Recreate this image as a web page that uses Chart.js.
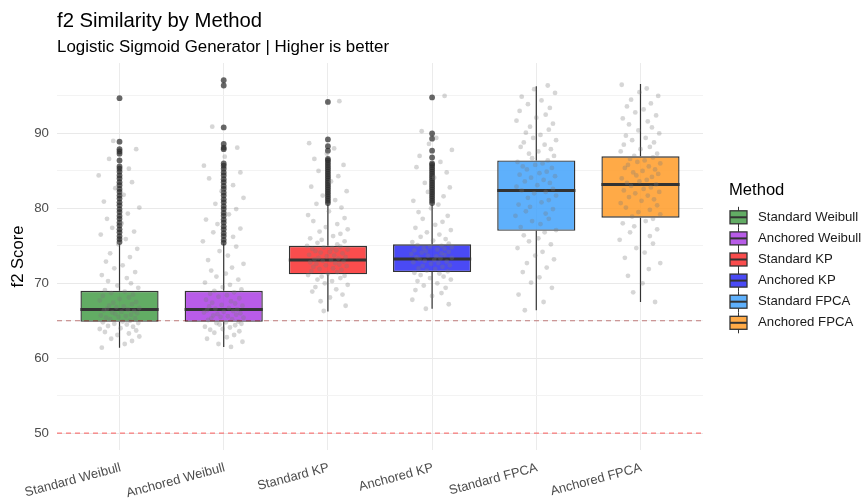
<!DOCTYPE html>
<html>
<head>
<meta charset="utf-8">
<script src="https://cdn.jsdelivr.net/npm/chart.js@4.4.1/dist/chart.umd.min.js"></script>
<style>
  html, body { margin: 0; padding: 0; background: #ffffff; }
  #wrap { width: 863px; height: 498px; }
</style>
</head>
<body>
<div id="wrap"><canvas id="chart" width="863" height="498"></canvas></div>
<script>
// ---- data ----
const CATEGORIES = ['Standard Weibull', 'Anchored Weibull', 'Standard KP', 'Anchored KP', 'Standard FPCA', 'Anchored FPCA'];

const Y_TICKS = [50, 60, 70, 80, 90];

// five-number summaries per method
const WHISK_LO = [61.4, 61.5, 66.25, 66.6, 66.4, 67.5];
const Q1       = [64.85, 64.85, 71.2, 71.5, 77.0, 78.75];
const MEDIAN   = [66.5, 66.5, 73.1, 73.25, 82.4, 83.2];
const Q3       = [69.0, 69.0, 75.0, 75.2, 86.4, 86.95];
const WHISK_HI = [75.3, 75.3, 80.5, 80.5, 96.3, 96.6];

// outlying scores (beyond the whiskers)
const OUT_STD_WEIBULL = [75.5, 75.9, 76.3, 76.8, 77.2, 77.7, 78.1, 78.6, 79.0, 79.5, 79.9, 80.4, 80.8, 81.3, 81.7, 82.2, 82.6, 83.1, 83.5, 84.0, 84.4, 84.9, 85.3, 85.6, 86.4, 87.3, 87.6, 87.9, 88.9, 94.7];
const OUT_ANC_WEIBULL = [75.4, 75.8, 76.3, 76.7, 77.2, 77.6, 78.1, 78.5, 79.0, 79.4, 79.9, 80.3, 80.8, 81.2, 81.7, 82.1, 82.6, 83.0, 83.5, 83.9, 84.4, 84.8, 85.3, 85.7, 86.0, 87.9, 88.1, 88.6, 90.8, 96.4, 97.1];
const OUT_STD_KP = [80.7, 81.0, 81.3, 81.6, 81.9, 82.2, 82.5, 82.8, 83.1, 83.4, 83.7, 84.0, 84.3, 84.6, 84.9, 85.2, 85.5, 85.8, 86.1, 86.4, 86.6, 87.7, 88.3, 89.2, 94.2];
const OUT_ANC_KP = [80.7, 81.0, 81.3, 81.6, 81.9, 82.2, 82.5, 82.8, 83.1, 83.4, 83.7, 84.0, 84.3, 84.6, 84.9, 85.2, 85.5, 85.8, 86.0, 86.8, 87.7, 89.3, 90.0, 94.8];
const OUT_STD_FPCA = [];
const OUT_ANC_FPCA = [];

// individual scores shown as a jittered cloud (sample)
const PTS_STD_WEIBULL = [61.4, 61.9, 62.3, 62.6, 62.9, 63.1, 63.3, 63.5, 63.7, 63.9, 64.0, 64.2, 64.3, 64.5, 64.6, 64.7, 64.8, 64.9, 65.0, 65.2,
  65.3, 65.4, 65.5, 65.6, 65.7, 65.8, 65.9, 66.0, 66.1, 66.2, 66.3, 66.4, 66.5, 66.6, 66.7, 66.8, 66.9, 67.0, 67.2, 67.4,
  67.5, 67.7, 67.9, 68.1, 68.3, 68.5, 68.7, 68.9, 69.1, 69.4, 69.7, 70.0, 70.3, 70.7, 71.1, 71.5, 72.0, 72.4, 72.9, 73.5,
  74.0, 74.6, 75.2, 75.9, 76.5, 76.9, 77.4, 78.0, 78.6, 79.3, 80.1, 80.9, 81.8, 82.7, 83.5, 84.4, 85.3, 86.6, 87.9, 89.0];
const PTS_ANC_WEIBULL = [61.5, 61.9, 62.2, 62.6, 62.8, 63.1, 63.4, 63.6, 63.8, 63.9, 64.1, 64.2, 64.4, 64.5, 64.6, 64.7, 64.8, 64.9, 65.1, 65.2,
  65.3, 65.4, 65.5, 65.6, 65.7, 65.8, 65.9, 66.0, 66.1, 66.2, 66.3, 66.4, 66.5, 66.6, 66.7, 66.9, 67.0, 67.1, 67.3, 67.4,
  67.6, 67.8, 68.0, 68.2, 68.4, 68.6, 68.8, 69.0, 69.2, 69.5, 69.8, 70.1, 70.5, 70.9, 71.3, 71.7, 72.1, 72.6, 73.1, 73.7,
  74.3, 74.9, 75.6, 76.2, 76.8, 77.3, 77.9, 78.5, 79.2, 79.9, 80.6, 81.4, 82.3, 83.1, 84.0, 84.8, 85.7, 86.9, 88.1, 90.9];
const PTS_STD_KP = [66.3, 67.0, 67.6, 68.1, 68.5, 68.9, 69.2, 69.5, 69.8, 70.0, 70.3, 70.5, 70.7, 70.9, 71.0, 71.1, 71.3, 71.5, 71.6, 71.8,
  71.9, 72.0, 72.2, 72.3, 72.4, 72.5, 72.6, 72.7, 72.8, 72.9, 73.0, 73.1, 73.2, 73.3, 73.4, 73.5, 73.6, 73.7, 73.8, 74.0,
  74.1, 74.2, 74.3, 74.4, 74.5, 74.6, 74.7, 74.8, 74.9, 75.0, 75.2, 75.4, 75.6, 75.8, 76.0, 76.3, 76.6, 76.9, 77.2, 77.5,
  77.9, 78.3, 78.7, 79.1, 79.6, 80.1, 80.6, 81.1, 81.7, 82.3, 82.9, 83.6, 84.3, 85.0, 85.8, 86.6, 87.3, 88.0, 88.7, 94.3];
const PTS_ANC_KP = [66.6, 67.2, 67.8, 68.3, 68.7, 69.1, 69.4, 69.7, 70.0, 70.3, 70.5, 70.7, 70.9, 71.1, 71.3, 71.4, 71.6, 71.7, 71.9, 72.0,
  72.2, 72.3, 72.4, 72.6, 72.7, 72.8, 72.9, 73.0, 73.1, 73.2, 73.3, 73.4, 73.5, 73.6, 73.7, 73.8, 73.9, 74.0, 74.1, 74.2,
  74.3, 74.4, 74.5, 74.6, 74.7, 74.8, 74.9, 75.0, 75.1, 75.3, 75.5, 75.7, 75.9, 76.2, 76.5, 76.8, 77.1, 77.4, 77.8, 78.2,
  78.6, 79.0, 79.5, 80.0, 80.5, 81.0, 81.6, 82.2, 82.8, 83.4, 84.1, 84.8, 85.5, 86.2, 87.0, 87.8, 88.6, 89.4, 90.3, 95.0];
const PTS_STD_FPCA = [66.4, 67.5, 68.5, 69.4, 70.1, 70.8, 71.5, 72.1, 72.7, 73.2, 73.7, 74.2, 74.7, 75.2, 75.6, 76.0, 76.4, 76.8, 77.1, 77.5,
  77.9, 78.3, 78.6, 79.0, 79.3, 79.6, 79.9, 80.2, 80.5, 80.8, 81.1, 81.4, 81.7, 82.0, 82.2, 82.4, 82.6, 82.9, 83.1, 83.4,
  83.6, 83.8, 84.1, 84.3, 84.5, 84.7, 84.9, 85.2, 85.4, 85.6, 85.8, 86.0, 86.2, 86.4, 86.7, 87.0, 87.3, 87.6, 87.9, 88.2,
  88.5, 88.8, 89.1, 89.4, 89.8, 90.1, 90.5, 90.9, 91.3, 91.7, 92.1, 92.5, 93.0, 93.4, 93.9, 94.4, 94.9, 95.4, 95.9, 96.4];
const PTS_ANC_FPCA = [67.5, 68.8, 70.0, 71.0, 71.9, 72.7, 73.4, 74.1, 74.7, 75.3, 75.8, 76.3, 76.8, 77.2, 77.6, 78.0, 78.3, 78.6, 78.9, 79.2,
  79.5, 79.8, 80.1, 80.4, 80.7, 81.0, 81.2, 81.5, 81.7, 82.0, 82.2, 82.4, 82.6, 82.8, 83.0, 83.2, 83.4, 83.6, 83.8, 84.0,
  84.2, 84.4, 84.6, 84.8, 85.0, 85.2, 85.4, 85.6, 85.8, 86.0, 86.2, 86.4, 86.6, 86.8, 87.0, 87.3, 87.6, 87.9, 88.2, 88.5,
  88.8, 89.1, 89.4, 89.7, 90.0, 90.4, 90.8, 91.2, 91.6, 92.0, 92.4, 92.8, 93.2, 93.6, 94.0, 94.5, 95.0, 95.5, 96.0, 96.5];

// horizontal jitter offsets (in category units)
const JITTER_X = [-0.17, 0.05, 0.12, -0.08, 0.19, -0.02, 0.09, -0.14, 0.16, -0.19,
  0.01, 0.13, -0.11, 0.07, -0.05, 0.18, -0.16, 0.03, 0.10, -0.09,
  0.15, -0.13, -0.01, 0.06, -0.18, 0.11, -0.04, 0.17, -0.07, 0.02,
  0.14, -0.15, 0.08, -0.12, 0.19, -0.03, 0.04, -0.10, 0.12, -0.06,
  0.16, -0.19, 0.00, 0.09, -0.16, 0.13, -0.08, 0.05, -0.14, 0.18,
  -0.02, 0.11, -0.11, 0.07, -0.17, 0.15, -0.05, 0.03, -0.13, 0.10,
  -0.09, 0.17, -0.01, 0.06, -0.18, 0.14, -0.07, 0.02, -0.12, 0.08,
  0.19, -0.15, 0.04, -0.04, 0.12, -0.20, 0.09, -0.10, 0.16, -0.06];

// reference thresholds
const THRESHOLDS = [65, 50];

// ---- styling ----
const FONT = '"Liberation Sans", Arial, Helvetica, sans-serif';
const FILLS = ['rgba(70,158,73,0.85)', 'rgba(171,63,228,0.85)', 'rgba(249,46,46,0.85)',
               'rgba(42,42,243,0.85)', 'rgba(66,162,252,0.85)', 'rgba(255,155,39,0.85)'];
const THRESHOLD_COLORS = ['rgba(139,0,0,0.5)', 'rgba(255,0,0,0.5)'];

const OUTLIERS = [OUT_STD_WEIBULL, OUT_ANC_WEIBULL, OUT_STD_KP, OUT_ANC_KP, OUT_STD_FPCA, OUT_ANC_FPCA];
const POINTS = [PTS_STD_WEIBULL, PTS_ANC_WEIBULL, PTS_STD_KP, PTS_ANC_KP, PTS_STD_FPCA, PTS_ANC_FPCA];

// one floating bar (Q1..Q3) per method, positioned at the method's index
const boxSets = CATEGORIES.map((name, i) => ({
  type: 'bar',
  label: name,
  data: [{ x: i, y: [Q1[i], Q3[i]] }],
  backgroundColor: FILLS[i],
  borderColor: '#333333',
  borderWidth: 1.4,
  borderSkipped: false,
  grouped: false,
  barPercentage: 0.75,
  categoryPercentage: 1,
  order: 3,
  boxIndex: i
}));

const outlierSets = OUTLIERS.map((vals, i) => ({
  type: 'scatter',
  label: CATEGORIES[i] + ' outliers',
  data: vals.map(v => ({ x: i, y: v })),
  pointRadius: 2.9,
  pointBorderWidth: 0,
  pointBackgroundColor: 'rgba(45,45,45,0.72)',
  order: 2
}));

const jitterSets = POINTS.map((vals, i) => ({
  type: 'scatter',
  label: CATEGORIES[i] + ' scores',
  data: vals.map((v, k) => ({ x: i + JITTER_X[(k + 13 * i) % JITTER_X.length], y: v })),
  pointRadius: 2.4,
  pointBorderWidth: 0,
  pointBackgroundColor: 'rgba(120,120,120,0.3)',
  order: 1
}));

// whiskers and median bar drawn with each box
const boxExtras = {
  id: 'boxExtras',
  afterDatasetDraw(chart, args) {
    const ds = chart.data.datasets[args.index];
    if (ds.boxIndex === undefined) return;
    const i = ds.boxIndex;
    const bar = args.meta.data[0];
    const y = chart.scales.y;
    const ctx = chart.ctx;
    ctx.save();
    ctx.strokeStyle = '#333333';
    ctx.lineWidth = 1.2;
    ctx.beginPath();
    ctx.moveTo(bar.x, y.getPixelForValue(Q3[i]));
    ctx.lineTo(bar.x, y.getPixelForValue(WHISK_HI[i]));
    ctx.moveTo(bar.x, y.getPixelForValue(Q1[i]));
    ctx.lineTo(bar.x, y.getPixelForValue(WHISK_LO[i]));
    ctx.stroke();
    ctx.lineWidth = 3;
    const my = y.getPixelForValue(MEDIAN[i]);
    ctx.beginPath();
    ctx.moveTo(bar.x - bar.width / 2, my);
    ctx.lineTo(bar.x + bar.width / 2, my);
    ctx.stroke();
    ctx.restore();
  }
};

// dashed reference thresholds
const thresholdLines = {
  id: 'thresholdLines',
  afterDatasetsDraw(chart) {
    const { ctx, chartArea } = chart;
    const y = chart.scales.y;
    ctx.save();
    ctx.lineWidth = 1.2;
    ctx.setLineDash([5, 4]);
    THRESHOLDS.forEach((t, k) => {
      const py = y.getPixelForValue(t);
      ctx.strokeStyle = THRESHOLD_COLORS[k];
      ctx.beginPath();
      ctx.moveTo(chartArea.left, py);
      ctx.lineTo(chartArea.right, py);
      ctx.stroke();
    });
    ctx.restore();
  }
};

// title, subtitle and the Method key
const annotations = {
  id: 'annotations',
  afterDraw(chart) {
    const { ctx, chartArea } = chart;
    ctx.save();
    ctx.textAlign = 'left';
    ctx.textBaseline = 'alphabetic';
    ctx.fillStyle = '#000000';
    ctx.font = '20.3px ' + FONT;
    ctx.fillText('f2 Similarity by Method', chartArea.left, 27);
    ctx.font = '16.9px ' + FONT;
    ctx.fillText('Logistic Sigmoid Generator | Higher is better', chartArea.left, 52);

    const x0 = chartArea.right + 27;
    ctx.textBaseline = 'middle';
    ctx.font = '16.6px ' + FONT;
    ctx.fillText('Method', x0 - 1, 190.5);
    ctx.font = '13.2px ' + FONT;
    CATEGORIES.forEach((name, i) => {
      const cy = 217.3 + i * 21.1;
      ctx.strokeStyle = '#333333';
      ctx.lineWidth = 1;
      ctx.beginPath();
      ctx.moveTo(x0 + 8.5, cy - 10.5); ctx.lineTo(x0 + 8.5, cy - 6.5);
      ctx.moveTo(x0 + 8.5, cy + 6.5); ctx.lineTo(x0 + 8.5, cy + 10.5);
      ctx.stroke();
      ctx.fillStyle = FILLS[i];
      ctx.fillRect(x0, cy - 6.5, 17, 13);
      ctx.lineWidth = 1.3;
      ctx.strokeRect(x0, cy - 6.5, 17, 13);
      ctx.lineWidth = 2;
      ctx.beginPath();
      ctx.moveTo(x0, cy); ctx.lineTo(x0 + 17, cy);
      ctx.stroke();
      ctx.fillStyle = '#1a1a1a';
      ctx.fillText(name, x0 + 28, cy);
    });
    ctx.restore();
  }
};

new Chart(document.getElementById('chart'), {
  data: { datasets: [...boxSets, ...outlierSets, ...jitterSets] },
  options: {
    responsive: false,
    animation: false,
    devicePixelRatio: 1,
    layout: { padding: { top: 63, right: 160, bottom: 0, left: 0 } },
    plugins: { legend: { display: false }, tooltip: { enabled: false }, title: { display: false } },
    scales: {
      x: {
        type: 'linear',
        offset: false,
        min: -0.6,
        max: CATEGORIES.length - 0.4,
        afterBuildTicks(scale) { scale.ticks = CATEGORIES.map((_, i) => ({ value: i })); },
        grid: { offset: false, color: '#ebebeb', lineWidth: 1, drawTicks: false },
        border: { display: false },
        ticks: { minRotation: 15, maxRotation: 15, autoSkip: false, padding: 10, labelOffset: 1,
                 color: '#4d4d4d', font: { family: FONT, size: 13 },
                 callback: v => CATEGORIES[v] },
        afterFit(scale) {
          scale.height = 48;
          scale.paddingLeft = 0;
          scale.paddingRight = 0;
        }
      },
      y: {
        type: 'linear',
        min: 47.75,
        max: 99.4,
        grid: {
          drawTicks: false,
          color: ctx => (Y_TICKS.includes(ctx.tick.value) ? '#e9e9e9' : '#f3f3f3'),
          lineWidth: 1
        },
        border: { display: false },
        ticks: {
          stepSize: 5,
          includeBounds: false,
          padding: 8,
          color: '#4d4d4d',
          font: { family: FONT, size: 13.3 },
          callback: v => (Y_TICKS.includes(v) ? String(v) : '')
        },
        title: { display: true, text: 'f2 Score', color: '#000000', font: { family: FONT, size: 16.6 },
                 padding: { top: 8, bottom: 0 } },
        afterFit(scale) {
          scale.width = 57;
          scale.paddingTop = 0;
          scale.paddingBottom = 0;
        }
      }
    }
  },
  plugins: [boxExtras, thresholdLines, annotations]
});
</script>
</body>
</html>
